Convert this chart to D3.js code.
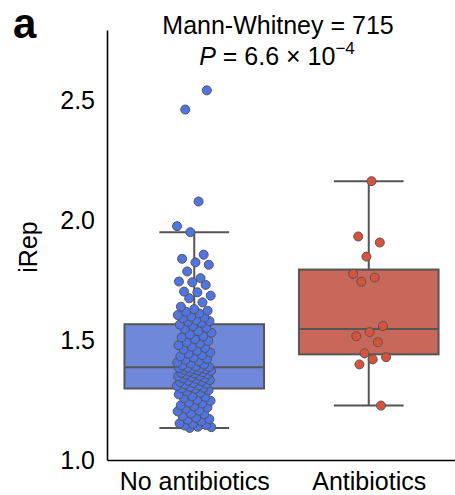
<!DOCTYPE html>
<html>
<head>
<meta charset="utf-8">
<script src="https://cdn.jsdelivr.net/npm/d3@7"></script>
<style>
  html, body { margin: 0; padding: 0; background: #fff; }
  svg { display: block; font-family: "Liberation Sans", Arial, Helvetica, sans-serif; }
</style>
</head>
<body>
<svg id="chart" width="455" height="495"></svg>
<script>
// ---- data ----
const categories = ["No antibiotics", "Antibiotics"];
const noAntibiotics = [
  1.134, 1.137, 1.139, 1.144, 1.146, 1.151, 1.153, 1.162, 1.168, 1.171, 1.176, 1.183, 1.191, 1.194, 1.203, 1.206,
  1.214, 1.219, 1.224, 1.228, 1.236, 1.240, 1.247, 1.251, 1.258, 1.263, 1.266, 1.274, 1.281, 1.286, 1.291, 1.297,
  1.299, 1.302, 1.305, 1.309, 1.311, 1.316, 1.318, 1.321, 1.326, 1.329, 1.331, 1.334, 1.338, 1.341, 1.343, 1.347,
  1.349, 1.352, 1.356, 1.358, 1.361, 1.364, 1.367, 1.369, 1.372, 1.374, 1.377, 1.379, 1.381, 1.383, 1.385, 1.386,
  1.388, 1.391, 1.395, 1.398, 1.403, 1.407, 1.412, 1.418, 1.422, 1.427, 1.433, 1.438, 1.444, 1.449, 1.456, 1.461,
  1.468, 1.473, 1.479, 1.486, 1.491, 1.497, 1.504, 1.511, 1.517, 1.524, 1.531, 1.538, 1.546, 1.552, 1.559, 1.565,
  1.572, 1.577, 1.580, 1.584, 1.591, 1.595, 1.598, 1.605, 1.612, 1.619, 1.623, 1.630, 1.640, 1.658, 1.675, 1.686,
  1.700, 1.703, 1.731, 1.742, 1.745, 1.759, 1.787, 1.815, 1.825, 1.840, 1.857, 1.951, 1.976, 2.079, 2.463, 2.543
];
const antibiotics = [
  2.164, 1.933, 1.908, 1.849, 1.777, 1.761, 1.744, 1.559,
  1.534, 1.517, 1.492, 1.445, 1.429, 1.420, 1.399, 1.227
];
const yTicks = [1.0, 1.5, 2.0, 2.5];
const titleLine1 = "Mann-Whitney = 715";
const pValueText = "6.6 × 10";
const pExponent = "−4";
const yLabel = "iRep";
const panelLabel = "a";

// ---- layout ----
const svg = d3.select("#chart");
const plotLeft = 107, plotRight = 456, plotTop = 30, plotBottom = 460;
const fills = ["#6f88d9", "#c8685a"];
const dotFills = ["#5174e3", "#d9533b"];
const edge = "#555555";

const x = d3.scalePoint().domain(categories).range([plotLeft, plotRight]).padding(0.5);
const y = d3.scaleLinear().domain([1.0, 2.795]).range([plotBottom, plotTop]);
const step = x.step();

function stats(vals) {
  const s = vals.slice().sort(d3.ascending);
  const q1 = d3.quantile(s, 0.25), med = d3.quantile(s, 0.5), q3 = d3.quantile(s, 0.75);
  const iqr = q3 - q1;
  const lo = d3.min(s.filter(v => v >= q1 - 1.5 * iqr));
  const hi = d3.max(s.filter(v => v <= q3 + 1.5 * iqr));
  return { q1, med, q3, lo, hi };
}
const groups = [noAntibiotics, antibiotics];

groups.forEach((vals, gi) => {
  const st = stats(vals);
  const cx = x(categories[gi]);
  const bw = step * 0.8, cw = step * 0.4;
  const g = svg.append("g");
  const ln = (x1, x2, y1, y2) => g.append("line").attr("x1", x1).attr("x2", x2).attr("y1", y1).attr("y2", y2)
    .attr("stroke", edge).attr("stroke-width", 2);
  ln(cx, cx, y(st.q3), y(st.hi));
  ln(cx, cx, y(st.q1), y(st.lo));
  ln(cx - cw / 2, cx + cw / 2, y(st.hi), y(st.hi));
  ln(cx - cw / 2, cx + cw / 2, y(st.lo), y(st.lo));
  g.append("rect").attr("x", cx - bw / 2).attr("width", bw)
    .attr("y", y(st.q3)).attr("height", y(st.q1) - y(st.q3))
    .attr("fill", fills[gi]).attr("stroke", edge).attr("stroke-width", 2);
  ln(cx - bw / 2, cx + bw / 2, y(st.med), y(st.med));
});

// strip points (deterministic jitter, +-0.1 of category step)
groups.forEach((vals, gi) => {
  const cx = x(categories[gi]);
  svg.append("g").selectAll("circle").data(vals).join("circle")
    .attr("cx", (d, i) => cx + (((i * 0.6180339 + 0.37 + gi * 0.21) % 1) * 2 - 1) * step * 0.1)
    .attr("cy", d => y(d))
    .attr("r", 4.5)
    .attr("fill", dotFills[gi])
    .attr("stroke", edge)
    .attr("stroke-width", 1);
});

// axes
const yAxis = svg.append("g").attr("transform", `translate(${plotLeft},0)`)
  .call(d3.axisLeft(y).tickValues(yTicks).tickFormat(d3.format(".1f")).tickSize(0).tickSizeOuter(0).tickPadding(12));
const xAxis = svg.append("g").attr("transform", `translate(0,${plotBottom})`)
  .call(d3.axisBottom(x).tickSize(0).tickSizeOuter(0).tickPadding(12));
[yAxis, xAxis].forEach(a => {
  a.select(".domain").attr("stroke", "#000").attr("stroke-width", 1.6);
  a.selectAll("text").attr("font-size", 25).attr("fill", "#000")
    .attr("font-family", "'Liberation Sans', Arial, Helvetica, sans-serif");
});

svg.append("text").attr("transform", "translate(37,247) rotate(-90)")
  .attr("text-anchor", "middle").attr("font-size", 25).text(yLabel);

svg.append("text").attr("x", 13).attr("y", 38).attr("font-size", 42).attr("font-weight", "bold").text(panelLabel);

svg.append("text").attr("x", 278).attr("y", 34).attr("text-anchor", "middle").attr("font-size", 25).text(titleLine1);
const t2 = svg.append("text").attr("x", 277).attr("y", 65).attr("text-anchor", "middle").attr("font-size", 25);
t2.append("tspan").attr("font-style", "italic").text("P");
t2.append("tspan").text(" = " + pValueText);
t2.append("tspan").attr("font-size", 17).attr("dy", -11).text(pExponent);
</script>
</body>
</html>
